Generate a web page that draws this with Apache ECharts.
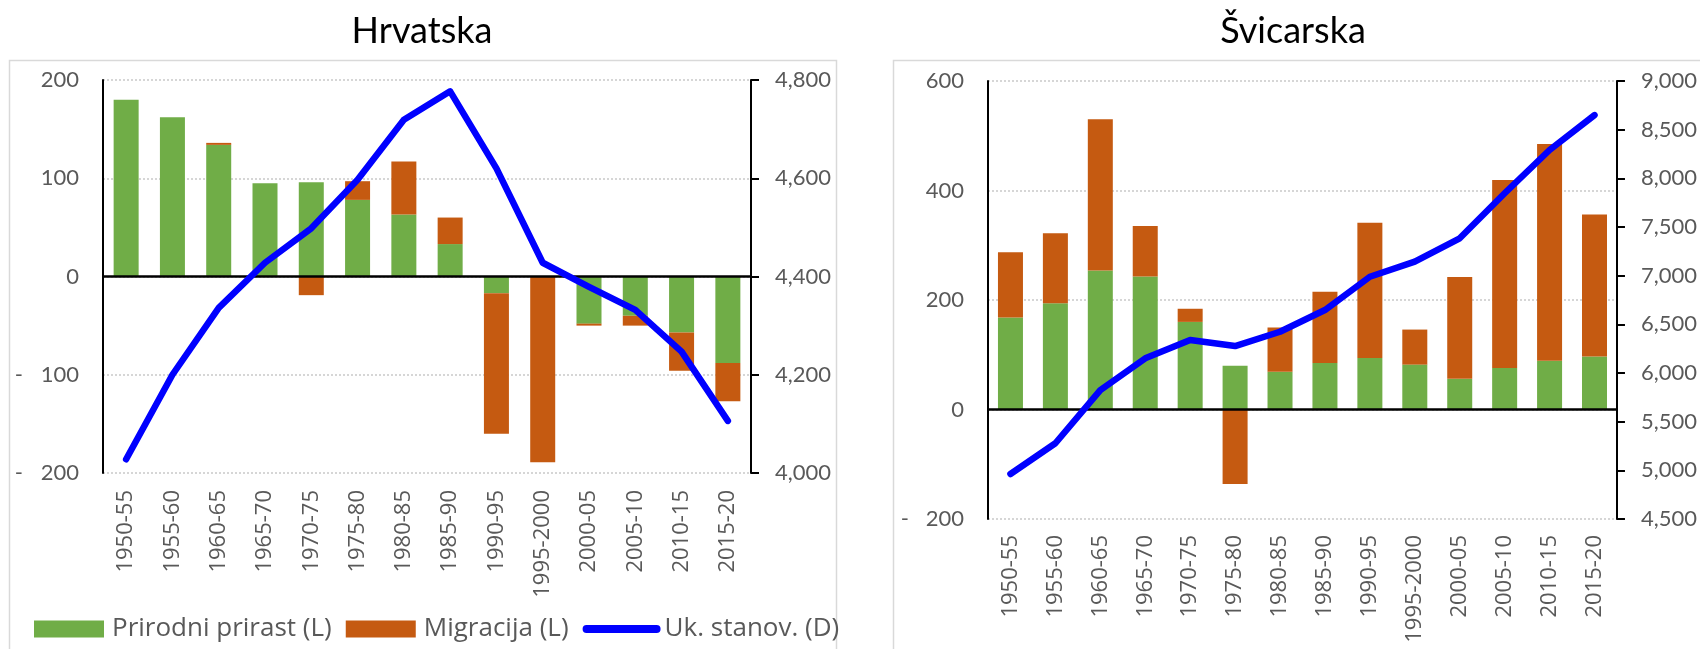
<!DOCTYPE html>
<html>
<head>
<meta charset="utf-8">
<script src="https://cdn.jsdelivr.net/npm/echarts@6/dist/echarts.min.js"></script>
<style>
  html, body { margin: 0; padding: 0; background: #fff; }
  #chart { width: 1700px; height: 649px; }
</style>
</head>
<body>
<div id="chart"></div>
<script>
// Five-year periods
const periods = ['1950-55', '1955-60', '1960-65', '1965-70', '1970-75', '1975-80', '1980-85',
  '1985-90', '1990-95', '1995-2000', '2000-05', '2005-10', '2010-15', '2015-20'];

// Hrvatska (thousands)
const hrNatural = [180, 162, 134, 95, 96, 78, 63, 33, -17, 0, -48, -40, -57, -88];
const hrMigration = [0, 0, 2, 0, -19, 19, 54, 27, -143, -189, -2, -10, -39, -39];
const hrPopulation = [4028, 4200, 4336, 4428, 4498, 4597, 4719, 4777, 4620, 4428, 4379, 4332, 4247, 4106];

// Švicarska (thousands)
const chNatural = [168, 194, 254, 243, 160, 80, 69, 85, 94, 82, 56, 76, 89, 97];
const chMigration = [119, 128, 276, 92, 24, -136, 81, 130, 247, 64, 186, 343, 396, 259];
const chPopulation = [4962, 5278, 5825, 6151, 6339, 6277, 6424, 6647, 6989, 7144, 7384, 7846, 8291, 8650];

const seriesNames = ['Prirodni prirast (L)', 'Migracija (L)', 'Uk. stanov. (D)'];
const titles = ['Hrvatska', 'Švicarska'];

const GREEN = '#70ad47';
const ORANGE = '#c55a11';
const BLUE = '#0000ff';
const GREY = '#595959';
const NUM_FONT = 'Lato';
const CAT_FONT = '"Open Sans"';

const fmtThousands = v => v.toLocaleString('en-US');

function leftAxisLabel(dashWidth) {
  return {
    margin: 24,
    color: GREY,
    fontFamily: NUM_FONT,
    fontSize: 22,
    formatter: v => v < 0 ? '{d|-}{n|' + Math.abs(v) + '}' : '{n|' + v + '}',
    rich: {
      d: { width: dashWidth, align: 'left', color: GREY, fontFamily: NUM_FONT, fontSize: 22 },
      n: { color: GREY, fontFamily: NUM_FONT, fontSize: 22 }
    }
  };
}

const blackLine = { show: true, lineStyle: { color: '#000', width: 2 } };
const dotted = { show: true, lineStyle: { color: '#d6d6d6', width: 2, type: [2, 2] } };

function catAxis(gridIndex, margin) {
  return {
    type: 'category', gridIndex, data: periods,
    axisLine: { show: false, onZero: false },
    axisTick: { show: false },
    axisLabel: { rotate: 90, interval: 0, margin, color: GREY, fontFamily: CAT_FONT, fontSize: 22 }
  };
}

function zeroLine() {
  return {
    silent: true, symbol: 'none', label: { show: false },
    lineStyle: { color: '#000', width: 2.5, type: 'solid' },
    data: [{ yAxis: 0 }]
  };
}

function barSeries(name, data, color, axisIdx, stack, withZero) {
  const s = {
    name, type: 'bar', stack, data, barWidth: 25,
    xAxisIndex: axisIdx, yAxisIndex: axisIdx * 2,
    itemStyle: { color }
  };
  if (withZero) s.markLine = zeroLine();
  return s;
}

function lineSeries(data, axisIdx) {
  return {
    name: seriesNames[2], type: 'line', data, symbol: 'none', z: 5,
    xAxisIndex: axisIdx, yAxisIndex: axisIdx * 2 + 1,
    lineStyle: { color: BLUE, width: 6.5, cap: 'round', join: 'round' },
    itemStyle: { color: BLUE }
  };
}

const chart = echarts.init(document.getElementById('chart'), null, { renderer: 'canvas' });

chart.setOption({
  animation: false,
  backgroundColor: '#fff',
  graphic: [
    { type: 'rect', shape: { x: 9.5, y: 60.5, width: 827, height: 640 }, style: { fill: 'none', stroke: '#d9d9d9', lineWidth: 1.5 }, silent: true },
    { type: 'rect', shape: { x: 893.5, y: 60.5, width: 830, height: 640 }, style: { fill: 'none', stroke: '#d9d9d9', lineWidth: 1.5 }, silent: true },
    { type: 'text', x: 422, y: 31, style: { text: titles[0], textAlign: 'center', textVerticalAlign: 'middle', font: '36px Lato', fill: '#000' } },
    { type: 'text', x: 1293, y: 31, style: { text: titles[1], textAlign: 'center', textVerticalAlign: 'middle', font: '36px Lato', fill: '#000' } }
  ],
  legend: {
    left: 29, top: 609,
    itemWidth: 70, itemHeight: 17, itemGap: 14,
    data: [
      { name: seriesNames[0], icon: 'rect' },
      { name: seriesNames[1], icon: 'rect' },
      { name: seriesNames[2], itemStyle: { opacity: 0 }, lineStyle: { width: 8, cap: 'round', color: BLUE } }
    ],
    textStyle: { color: GREY, fontFamily: CAT_FONT, fontSize: 26, lineHeight: 30, padding: [0, 0, 0, 3] }
  },
  grid: [
    { left: 103, top: 80, width: 648, height: 393 },
    { left: 988, top: 81, width: 631, height: 438 }
  ],
  xAxis: [catAxis(0, 17), catAxis(1, 16)],
  yAxis: [
    {
      type: 'value', gridIndex: 0, min: -200, max: 200, interval: 100, position: 'left',
      axisLine: blackLine, axisTick: { show: false },
      splitLine: dotted, axisLabel: leftAxisLabel(26)
    },
    {
      type: 'value', gridIndex: 0, min: 4000, max: 4800, interval: 200, position: 'right',
      axisLine: blackLine,
      axisTick: { show: true, inside: false, length: 8, lineStyle: { color: '#000', width: 2 } },
      splitLine: { show: false },
      axisLabel: { margin: 24, color: GREY, fontFamily: NUM_FONT, fontSize: 22, formatter: fmtThousands }
    },
    {
      type: 'value', gridIndex: 1, min: -200, max: 600, interval: 200, position: 'left',
      axisLine: blackLine, axisTick: { show: false },
      splitLine: dotted, axisLabel: leftAxisLabel(25)
    },
    {
      type: 'value', gridIndex: 1, min: 4500, max: 9000, interval: 500, position: 'right',
      axisLine: blackLine,
      axisTick: { show: true, inside: false, length: 8, lineStyle: { color: '#000', width: 2 } },
      splitLine: { show: false },
      axisLabel: { margin: 24, color: GREY, fontFamily: NUM_FONT, fontSize: 22, formatter: fmtThousands }
    }
  ],
  series: [
    barSeries(seriesNames[0], hrNatural, GREEN, 0, 'hr', true),
    barSeries(seriesNames[1], hrMigration, ORANGE, 0, 'hr', false),
    lineSeries(hrPopulation, 0),
    barSeries(seriesNames[0], chNatural, GREEN, 1, 'ch', true),
    barSeries(seriesNames[1], chMigration, ORANGE, 1, 'ch', false),
    lineSeries(chPopulation, 1)
  ]
});
</script>
</body>
</html>
